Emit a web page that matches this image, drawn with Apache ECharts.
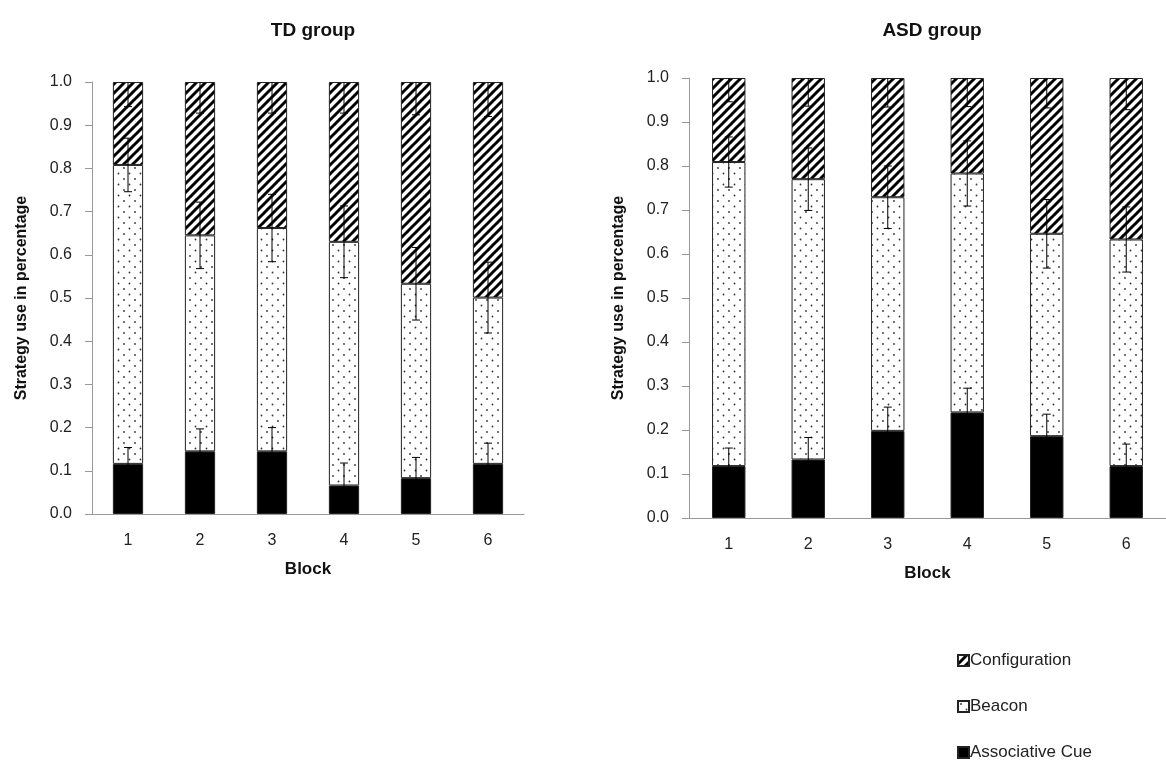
<!DOCTYPE html>
<html>
<head>
<meta charset="utf-8">
<script src="https://cdn.jsdelivr.net/npm/echarts@6/dist/echarts.min.js"></script>
<style>
  html, body { margin: 0; padding: 0; background: #fff; }
  #main { width: 1166px; height: 762px; }
</style>
</head>
<body>
<div id="main"></div>
<script>
// values
const blocks = ['1', '2', '3', '4', '5', '6'];
const yTicks = [0, 0.1, 0.2, 0.3, 0.4, 0.5, 0.6, 0.7, 0.8, 0.9, 1.0];

const tdCue = [0.116, 0.145, 0.145, 0.066, 0.083, 0.116];
const tdBeacon = [0.692, 0.500, 0.517, 0.564, 0.450, 0.385];
const tdConfig = [0.192, 0.355, 0.338, 0.370, 0.467, 0.499];
const tdCueErr = [0.038, 0.052, 0.055, 0.052, 0.048, 0.048];
const tdBeaconErr = [0.062, 0.077, 0.078, 0.083, 0.084, 0.082];
const tdConfigErr = [0.057, 0.072, 0.072, 0.072, 0.076, 0.080];

const asdCue = [0.118, 0.133, 0.198, 0.240, 0.186, 0.118];
const asdBeacon = [0.691, 0.637, 0.531, 0.543, 0.460, 0.515];
const asdConfig = [0.191, 0.230, 0.271, 0.217, 0.354, 0.367];
const asdCueErr = [0.041, 0.050, 0.054, 0.055, 0.050, 0.050];
const asdBeaconErr = [0.057, 0.071, 0.071, 0.074, 0.078, 0.074];
const asdConfigErr = [0.054, 0.064, 0.066, 0.065, 0.068, 0.072];

const FONT = 'Liberation Sans, Arial, sans-serif';

// fill patterns
function hatchPattern() {
  const s = 9;
  const c = document.createElement('canvas');
  c.width = s; c.height = s;
  const g = c.getContext('2d');
  g.fillStyle = '#fff';
  g.fillRect(0, 0, s, s);
  g.strokeStyle = '#000';
  g.lineWidth = 3;
  [[-s, 0], [0, 0], [s, 0]].forEach(function (o) {
    g.beginPath();
    g.moveTo(o[0] - 1, s + 1);
    g.lineTo(o[0] + s + 1, -1);
    g.stroke();
  });
  return { image: c, repeat: 'repeat' };
}
function dotPattern() {
  const c = document.createElement('canvas');
  c.width = 11; c.height = 11;
  const g = c.getContext('2d');
  g.fillStyle = '#fff';
  g.fillRect(0, 0, 11, 11);
  g.fillStyle = '#333';
  g.beginPath(); g.arc(3, 3, 0.9, 0, Math.PI * 2); g.fill();
  g.beginPath(); g.arc(8.5, 8.5, 0.9, 0, Math.PI * 2); g.fill();
  return { image: c, repeat: 'repeat' };
}
const hatch = hatchPattern();
const dots = dotPattern();

function errData(cue, beacon, cueErr, beaconErr, configErr) {
  const out = [];
  for (let i = 0; i < cue.length; i++) {
    out.push([i, cue[i], cueErr[i]]);
    out.push([i, cue[i] + beacon[i], beaconErr[i]]);
    out.push([i, 1, configErr[i]]);
  }
  return out;
}

function renderErr(params, api) {
  const i = api.value(0), v = api.value(1), e = api.value(2);
  const hiVal = Math.min(v + e, 1);
  const lo = api.coord([i, v - e]);
  const hi = api.coord([i, hiVal]);
  const cap = 4;
  const st = { stroke: '#000', lineWidth: 1 };
  const kids = [
    { type: 'line', shape: { x1: lo[0], y1: lo[1], x2: hi[0], y2: hi[1] }, style: st },
    { type: 'line', shape: { x1: lo[0] - cap, y1: lo[1], x2: lo[0] + cap, y2: lo[1] }, style: st }
  ];
  if (v + e <= 1) {
    kids.push({ type: 'line', shape: { x1: hi[0] - cap, y1: hi[1], x2: hi[0] + cap, y2: hi[1] }, style: st });
  }
  return { type: 'group', children: kids };
}

const grids = [
  { left: 92, top: 82, width: 432, height: 432 },
  { left: 689, top: 78, width: 480, height: 440 }
];

function xAxis(idx) {
  return {
    type: 'category', gridIndex: idx, data: blocks,
    name: 'Block', nameLocation: 'middle', nameGap: 47,
    nameTextStyle: { fontFamily: FONT, fontSize: 17, fontWeight: 'bold', color: '#111' },
    axisLine: { lineStyle: { color: '#999', width: 1 } },
    axisTick: { length: 7, lineStyle: { color: '#999' } },
    axisLabel: { fontFamily: FONT, fontSize: 16, color: '#222', margin: 19 }
  };
}
function yAxis(idx) {
  return {
    type: 'value', gridIndex: idx, min: yTicks[0], max: yTicks[yTicks.length - 1], interval: 0.1,
    name: 'Strategy use in percentage', nameLocation: 'middle', nameGap: 62,
    nameTextStyle: { fontFamily: FONT, fontSize: 16, fontWeight: 'bold', color: '#111' },
    axisLine: { show: true, lineStyle: { color: '#999', width: 1 } },
    axisTick: { show: true, length: 7, lineStyle: { color: '#999' } },
    splitLine: { show: false },
    axisLabel: { fontFamily: FONT, fontSize: 16, color: '#222', margin: 20, formatter: v => v.toFixed(1) }
  };
}

function barSeries(name, data, color, idx) {
  return {
    name: name, type: 'bar', stack: 'g' + idx, xAxisIndex: idx, yAxisIndex: idx,
    data: data, barWidth: '42%',
    itemStyle: { color: color, borderColor: '#222', borderWidth: 1 },
    emphasis: { disabled: true }
  };
}

const chart = echarts.init(document.getElementById('main'));
chart.setOption({
  animation: false,
  backgroundColor: '#fff',
  title: [
    { text: 'TD group', left: 308, top: 16, textAlign: 'center',
      textStyle: { fontFamily: FONT, fontSize: 19, fontWeight: 'bold', color: '#111' } },
    { text: 'ASD group', left: 927, top: 16, textAlign: 'center',
      textStyle: { fontFamily: FONT, fontSize: 19, fontWeight: 'bold', color: '#111' } }
  ],
  legend: {
    orient: 'vertical', left: 957, top: 652, height: 160, padding: 0, itemGap: 29,
    itemWidth: 11, itemHeight: 11, icon: 'rect',
    data: ['Configuration', 'Beacon', 'Associative Cue'],
    textStyle: { fontFamily: FONT, fontSize: 17, color: '#222', padding: [0, 0, 0, -4] }
  },
  grid: grids,
  xAxis: [xAxis(0), xAxis(1)],
  yAxis: [yAxis(0), yAxis(1)],
  series: [
    barSeries('Associative Cue', tdCue, '#000', 0),
    barSeries('Beacon', tdBeacon, dots, 0),
    barSeries('Configuration', tdConfig, hatch, 0),
    barSeries('Associative Cue', asdCue, '#000', 1),
    barSeries('Beacon', asdBeacon, dots, 1),
    barSeries('Configuration', asdConfig, hatch, 1),
    { type: 'custom', xAxisIndex: 0, yAxisIndex: 0, silent: true, z: 5,
      renderItem: renderErr, data: errData(tdCue, tdBeacon, tdCueErr, tdBeaconErr, tdConfigErr) },
    { type: 'custom', xAxisIndex: 1, yAxisIndex: 1, silent: true, z: 5,
      renderItem: renderErr, data: errData(asdCue, asdBeacon, asdCueErr, asdBeaconErr, asdConfigErr) }
  ]
});
</script>
</body>
</html>
